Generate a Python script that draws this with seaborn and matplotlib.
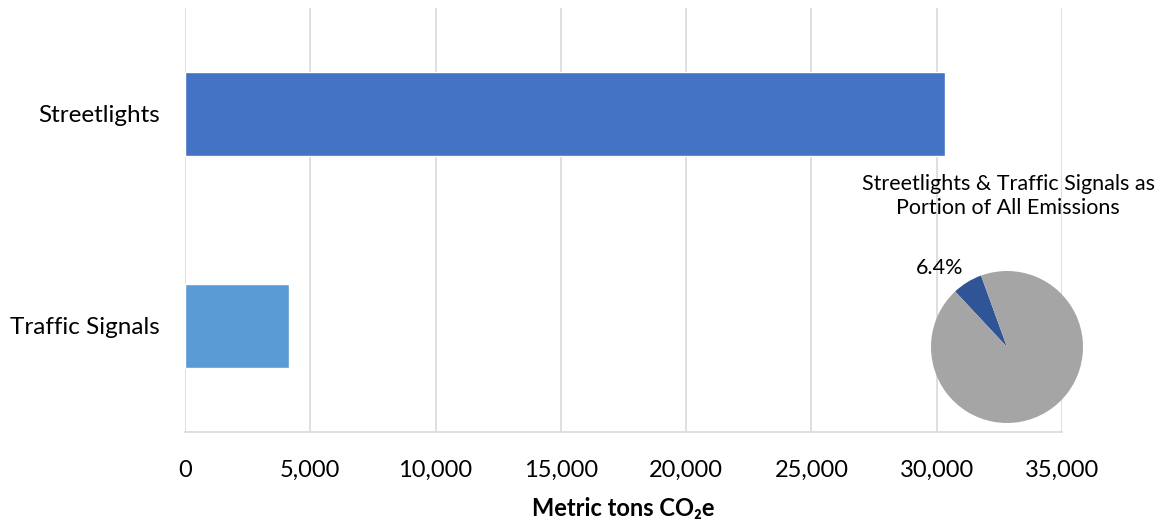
import matplotlib
matplotlib.use("Agg")
import matplotlib.pyplot as plt
import seaborn as sns
import pandas as pd

# Emissions by source (metric tons CO2e)
categories = ["Streetlights", "Traffic Signals"]
emissions = [30350, 4140]
bar_colors = ["#4472C4", "#5B9BD5"]

# Share of all emissions
pie_labels = ["Streetlights & Traffic Signals", "All other emissions"]
pie_shares = [6.4, 93.6]
pie_colors = ["#2F5597", "#A5A5A5"]

x_ticks = [0, 5000, 10000, 15000, 20000, 25000, 30000, 35000]

sns.set_theme(style="white")
plt.rcParams["font.family"] = ["Lato", "DejaVu Sans"]

W, H = 1165, 522
fig = plt.figure(figsize=(W / 100, H / 100), dpi=100)
ax = fig.add_axes([185 / W, (H - 432) / H, (1062 - 185) / W, (432 - 8) / H])

df = pd.DataFrame({"category": categories, "value": emissions})
sns.barplot(data=df, y="category", x="value", hue="category",
            palette=bar_colors, orient="h", width=0.4, legend=False,
            saturation=1, ax=ax)

ax.set_xlim(0, 35000)
ax.set_ylim(1.5, -0.5)
ax.set_xticks(x_ticks)
ax.set_xticklabels([f"{t:,}" for t in x_ticks], fontsize=17, color="#000000")
ax.tick_params(axis="y", labelsize=17.5, colors="#000000", length=0, pad=18)
ax.tick_params(axis="x", length=0, pad=20)
ax.grid(axis="x", color="#D9D9D9", linewidth=1.2)
ax.set_axisbelow(True)
for side in ["top", "right", "left"]:
    ax.spines[side].set_visible(False)
ax.spines["bottom"].set_color("#D9D9D9")
ax.spines["bottom"].set_linewidth(1.2)
ax.set_ylabel("")
ax.set_xlabel("Metric tons CO\u2082e", fontsize=17, fontweight="bold",
              color="#000000", labelpad=12)

# Inset pie: share of all emissions
r = 76
cx, cy = 1007, 347
pax = fig.add_axes([(cx - r) / W, (H - cy - r) / H, 2 * r / W, 2 * r / H])
pax.pie(pie_shares, colors=pie_colors, startangle=110, counterclock=True,
        wedgeprops=dict(linewidth=0))
pax.set_aspect("equal")
pax.set_xlim(-1, 1)
pax.set_ylim(-1, 1)
pax.axis("off")
fig.text(940 / W, 1 - 268 / H, f"{pie_shares[0]}%", fontsize=15.5,
         ha="center", va="center", color="#000000")
fig.text(1008 / W, 1 - 196 / H,
         "Streetlights & Traffic Signals as\nPortion of All Emissions",
         fontsize=15.5, ha="center", va="center", linespacing=1.25,
         color="#000000")

fig.savefig("out.png", dpi=100)
